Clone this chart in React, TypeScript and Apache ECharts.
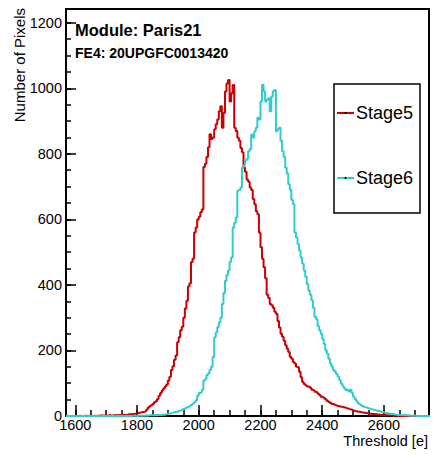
import React, { useEffect, useRef } from "react";
import * as echarts from "echarts";

const BIN_START = 1570;
const BIN_WIDTH = 5;

const stage5 = [
  0, 0, 0, 0, 0, 0, 0, 0, 1, 0,
  0, 0, 1, 0, 1, 0, 0, 1, 1, 0,
  1, 1, 2, 1, 1, 2, 1, 2, 2, 1,
  2, 3, 2, 2, 3, 3, 3, 4, 3, 4,
  5, 5, 6, 6, 7, 8, 9, 10, 11, 12,
  13, 15, 20, 26, 30, 33, 37, 42, 45, 52,
  62, 70, 78, 84, 90, 96, 108, 120, 140, 152,
  172, 185, 225, 240, 262, 272, 300, 328, 352, 395,
  405, 470, 480, 560, 575, 600, 608, 622, 630, 760,
  770, 790, 820, 860, 845, 850, 875, 890, 905, 930,
  945, 880, 925, 990, 1015, 1025, 960, 985, 1010, 880,
  870, 849, 840, 818, 805, 758, 745, 722, 715, 697,
  690, 662, 646, 625, 616, 560, 515, 480, 454, 420,
  370, 360, 342, 338, 330, 318, 312, 290, 270, 251,
  242, 230, 216, 205, 195, 180, 175, 165, 160, 150,
  148, 135, 118, 104, 98, 94, 90, 89, 86, 80,
  78, 74, 72, 68, 64, 59, 57, 54, 50, 46,
  43, 40, 37, 35, 33, 31, 30, 29, 28, 27,
  26, 24, 23, 21, 20, 18, 16, 15, 14, 13,
  12, 11, 10, 10, 9, 8, 7, 7, 6, 6,
  5, 5, 4, 4, 3, 3, 3, 2, 2, 2,
  2, 1, 1, 1, 1, 1, 0, 1, 0, 1,
  0, 0, 1, 0, 0, 0, 0, 0, 0, 0,
  0, 0, 0, 0, 0, 0,
];

const stage6 = [
  0, 0, 0, 0, 0, 0, 0, 0, 0, 0,
  0, 0, 0, 0, 0, 0, 0, 0, 0, 0,
  0, 0, 0, 0, 1, 0, 0, 0, 0, 0,
  1, 0, 0, 0, 0, 1, 0, 0, 1, 0,
  0, 1, 0, 1, 1, 0, 1, 1, 1, 1,
  1, 2, 1, 2, 2, 2, 2, 3, 2, 3,
  3, 3, 4, 4, 5, 6, 7, 8, 10, 11,
  12, 13, 15, 16, 18, 19, 22, 24, 27, 29,
  31, 34, 38, 42, 48, 62, 70, 72, 80, 108,
  112, 125, 130, 140, 150, 180, 240, 255, 271, 285,
  300, 342, 375, 413, 430, 444, 470, 484, 575, 590,
  606, 687, 690, 697, 758, 765, 780, 785, 808, 815,
  859, 850, 869, 880, 910, 905, 960, 1011, 990, 960,
  965, 970, 930, 975, 991, 995, 869, 875, 880, 840,
  808, 790, 758, 740, 707, 690, 660, 646, 560, 545,
  525, 505, 484, 465, 444, 425, 403, 383, 370, 353,
  330, 302, 295, 275, 262, 251, 235, 220, 201, 190,
  175, 160, 150, 140, 135, 128, 120, 110, 99, 92,
  85, 79, 79, 75, 80, 70, 59, 52, 45, 39,
  36, 32, 29, 27, 26, 24, 22, 21, 20, 18,
  17, 16, 15, 14, 13, 12, 10, 9, 8, 7,
  6, 6, 5, 4, 4, 3, 3, 3, 2, 2,
  2, 2, 1, 1, 1, 1, 1, 0, 1, 0,
  0, 0, 0, 0, 0, 0,
];

const xLabels = [1600, 1800, 2000, 2200, 2400, 2600];
const xMinorTicks = [1600, 1650, 1700, 1750, 1800, 1850, 1900, 1950, 2000, 2050, 2100, 2150, 2200, 2250, 2300, 2350, 2400, 2450, 2500, 2550, 2600, 2650, 2700];
const yLabels = [0, 200, 400, 600, 800, 1000, 1200];
const yMinorTicks = [0, 50, 100, 150, 200, 250, 300, 350, 400, 450, 500, 550, 600, 650, 700, 750, 800, 850, 900, 950, 1000, 1050, 1100, 1150, 1200];

const seriesNames = ["Stage5", "Stage6"];
const seriesColors = ["#cc0000", "#33cccc"];

const FONT = "'Liberation Sans', Arial, sans-serif";

function toSteps(values: number[]) {
  const pts = values.map((v, i) => [BIN_START + i * BIN_WIDTH, v]);
  pts.push([BIN_START + values.length * BIN_WIDTH, values[values.length - 1]]);
  return pts;
}

export default function App() {
  const ref = useRef<HTMLDivElement>(null);
  useEffect(() => {
    document.body.style.margin = "0";
    if (!ref.current) return;
    const chart = echarts.init(ref.current, null, { renderer: "svg" });
    const axisCommon = {
      type: "value" as const,
      splitLine: { show: false },
    };
    const plain = (v: number) => String(v);
    chart.setOption({
      animation: false,
      backgroundColor: "#ffffff",
      grid: {
        left: 66,
        right: 5,
        top: 9,
        bottom: 39,
        show: true,
        borderColor: "#000",
        borderWidth: 2,
        backgroundColor: "transparent",
      },
      xAxis: [
        {
          ...axisCommon,
          min: 1570,
          max: 2746,
          position: "bottom",
          axisLine: { show: true, lineStyle: { color: "#000", width: 2 } },
          axisTick: {
            show: true,
            inside: true,
            length: 11,
            customValues: xLabels,
            lineStyle: { color: "#000", width: 1.5 },
          },
          axisLabel: {
            customValues: xLabels,
            formatter: plain,
            color: "#000",
            fontSize: 14.5,
            fontFamily: FONT,
            margin: 1,
          },
        },
        {
          ...axisCommon,
          min: 1570,
          max: 2746,
          position: "bottom",
          axisLine: { show: false },
          axisTick: {
            show: true,
            inside: true,
            length: 6,
            customValues: xMinorTicks,
            lineStyle: { color: "#000", width: 1.5 },
          },
          axisLabel: { show: false },
        },
      ],
      yAxis: [
        {
          ...axisCommon,
          min: 0,
          max: 1242,
          axisLine: { show: true, lineStyle: { color: "#000", width: 2 } },
          axisTick: {
            show: true,
            inside: true,
            length: 10,
            customValues: yLabels,
            lineStyle: { color: "#000", width: 1.5 },
          },
          axisLabel: {
            customValues: yLabels,
            formatter: plain,
            color: "#000",
            fontSize: 14.5,
            fontFamily: FONT,
            margin: 4,
          },
        },
        {
          ...axisCommon,
          min: 0,
          max: 1242,
          position: "left",
          axisLine: { show: false },
          axisTick: {
            show: true,
            inside: true,
            length: 5,
            customValues: yMinorTicks,
            lineStyle: { color: "#000", width: 1.5 },
          },
          axisLabel: { show: false },
        },
      ],
      series: [stage5, stage6].map((vals, i) => ({
        name: seriesNames[i],
        type: "line",
        step: "end",
        symbol: "none",
        xAxisIndex: 0,
        yAxisIndex: 0,
        data: toSteps(vals),
        lineStyle: { color: seriesColors[i], width: 2 },
        itemStyle: { color: seriesColors[i] },
        z: 3,
      })),
      graphic: [
        {
          type: "text",
          left: 75,
          top: 21,
          style: { text: "Module: Paris21", font: `bold 16.5px ${FONT}`, fill: "#000" },
        },
        {
          type: "text",
          left: 75,
          top: 46,
          style: { text: "FE4: 20UPGFC0013420", font: `bold 14px ${FONT}`, fill: "#000" },
        },
        {
          type: "text",
          x: 428,
          y: 441,
          style: {
            text: "Threshold [e]",
            font: `14.5px ${FONT}`,
            fill: "#000",
            align: "right",
            verticalAlign: "middle",
          },
        },
        {
          type: "text",
          x: 19,
          y: 8,
          rotation: Math.PI / 2,
          style: {
            text: "Number of Pixels",
            font: `15px ${FONT}`,
            fill: "#000",
            align: "right",
            verticalAlign: "middle",
          },
        },
        {
          type: "rect",
          shape: { x: 334, y: 84, width: 86, height: 129 },
          style: { fill: "#fff", stroke: "#000", lineWidth: 1.5 },
          z: 10,
        },
        ...seriesNames.flatMap((name, i) => {
          const cy = i === 0 ? 113 : 178;
          return [
            {
              type: "line",
              shape: { x1: 337, y1: cy, x2: 354, y2: cy },
              style: { stroke: seriesColors[i], lineWidth: 2 },
              z: 11,
            },
            {
              type: "circle",
              shape: { cx: 345.5, cy, r: 1 },
              style: { fill: "#000" },
              z: 12,
            },
            {
              type: "text",
              x: 356,
              y: cy,
              style: {
                text: name,
                font: `18px ${FONT}`,
                fill: "#000",
                align: "left",
                verticalAlign: "middle",
              },
              z: 11,
            },
          ];
        }),
      ],
    });
    return () => chart.dispose();
  }, []);
  return <div ref={ref} style={{ width: 434, height: 455 }} />;
}
